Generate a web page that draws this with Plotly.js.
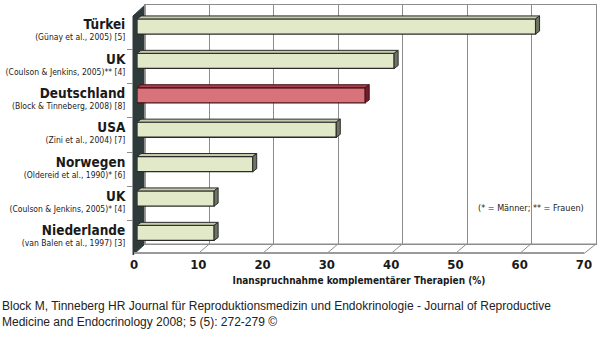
<!DOCTYPE html>
<html>
<head>
<meta charset="utf-8">
<script src="https://cdn.plot.ly/plotly-3.0.1.min.js"></script>
<style>html,body{margin:0;padding:0;background:#fff;}#chart{width:600px;height:357px;}</style>
</head>
<body>
<div id="chart"></div>
<script>
// ---- data ----
const countries = ["Türkei", "UK", "Deutschland", "USA", "Norwegen", "UK", "Niederlande"];
const sources = ["(Günay et al., 2005) [5]", "(Coulson & Jenkins, 2005)** [4]", "(Block & Tinneberg, 2008) [8]",
                 "(Zini et al., 2004) [7]", "(Oldereid et al., 1990)* [6]", "(Coulson & Jenkins, 2005)* [4]",
                 "(van Balen et al., 1997) [3]"];
const values = [62, 40, 35.5, 31, 18, 12, 12];
const highlight = [false, false, true, false, false, false, false];
const xTicks = [0, 10, 20, 30, 40, 50, 60, 70];
const xTitle = "Inanspruchnahme komplementärer Therapien (%)";
const noteText = "(* = Männer; ** = Frauen)";
const footer = "Block M, Tinneberg HR Journal für Reproduktionsmedizin und Endokrinologie - Journal of Reproductive<br>Medicine and Endocrinology 2008; 5 (5): 272-279 ©";

// ---- geometry helpers (pixels -> paper) ----
const W = 600, H = 357;
const px = x => x / W;
const py = y => 1 - y / H;
const COND = "Liberation Sans Narrow, DejaVu Sans Condensed, Arial Narrow, sans-serif";

const idx = countries.map((_, i) => i);
const labels = countries.map((c, i) => "<span style='font-size:13.5px'><b>" + c + "</b></span><br>" + sources[i]);

const fillLight = "#e2e9c9", fillRed = "#d9737b";
const lineLight = "#2b2b2b", lineRed = "#4a1119";

const barTrace = {
  type: "bar", orientation: "h",
  x: values, y: idx,
  xaxis: "x3", yaxis: "y3",
  width: 0.44,
  marker: {color: highlight.map(h => h ? fillRed : fillLight),
           line: {color: highlight.map(h => h ? lineRed : lineLight), width: 1.3}},
  hoverinfo: "skip", showlegend: false
};
// invisible helpers so the other subplots exist
const frontTrace = {type: "scatter", x: [0], y: [0], xaxis: "x", yaxis: "y", mode: "markers",
  marker: {opacity: 0}, hoverinfo: "skip", showlegend: false};
const backTrace = {type: "scatter", x: [0], y: [0], xaxis: "x2", yaxis: "y2", mode: "markers",
  marker: {opacity: 0}, hoverinfo: "skip", showlegend: false};

// bar axis scale (pixels per unit) for the 3D caps
const barX0 = 137, barX1 = 587, barPxPerUnit = (barX1 - barX0) / 70;
const barTop = 9.3, barBot = 250.1, barPxPerCat = (barBot - barTop) / 7;
const dx = 4 / barPxPerUnit, dy = 3 / barPxPerCat, hw = 0.22;

const shapes = [];
// left wall
shapes.push({type: "path", xref: "paper", yref: "paper", layer: "below",
  path: `M${px(133)},${py(16)} L${px(145)},${py(5)} L${px(145)},${py(244)} L${px(133)},${py(255)} Z`,
  fillcolor: "#2f3a3a", line: {color: "#2f3a3a", width: 1}});
// floor lines
shapes.push({type: "line", xref: "paper", yref: "paper", layer: "below",
  x0: px(145), y0: py(244), x1: px(596), y1: py(244), line: {color: "#8c8c8c", width: 1}});
shapes.push({type: "line", xref: "paper", yref: "paper", layer: "below",
  x0: px(584), y0: py(253.5), x1: px(596), y1: py(244), line: {color: "#8c8c8c", width: 1}});
// floor diagonals at each tick
const diagUnits = 11 / (450 / 70);
xTicks.slice(1, -1).forEach(v => {
  shapes.push({type: "line", xref: "x", yref: "paper", layer: "below",
    x0: v, y0: py(253.5), x1: v + diagUnits, y1: py(244), line: {color: "#8c8c8c", width: 1}});
});
// 3D caps for bars
values.forEach((v, i) => {
  const h = highlight[i];
  const top = i - hw, bot = i + hw;
  shapes.push({type: "path", xref: "x3", yref: "y3", layer: "above",
    path: `M0,${top} L${v},${top} L${v + dx},${top - dy} L${dx},${top - dy} Z`,
    fillcolor: h ? "#a8404c" : "#c4cba9", line: {color: h ? lineRed : lineLight, width: 1}});
  shapes.push({type: "path", xref: "x3", yref: "y3", layer: "above",
    path: `M${v},${top} L${v + dx},${top - dy} L${v + dx},${bot - dy} L${v},${bot} Z`,
    fillcolor: h ? "#6e1f2a" : "#6f7562", line: {color: h ? lineRed : lineLight, width: 1}});
});

const layout = {
  width: W, height: H, autosize: false,
  margin: {l: 0, r: 0, t: 0, b: 0, pad: 0},
  paper_bgcolor: "#ffffff", plot_bgcolor: "rgba(0,0,0,0)",
  showlegend: false,
  font: {family: COND, color: "#1a1a1a"},
  // front plane: x tick labels + category labels
  xaxis: {domain: [px(134), px(584)], range: [0, 70], anchor: "free", position: py(253),
    tickmode: "array", tickvals: xTicks, ticktext: xTicks.map(String),
    tickfont: {family: COND, size: 13, weight: "bold", color: "#1a1a1a"},
    ticks: "", ticklabelstandoff: -1,
    showgrid: false, zeroline: false,
    showline: true, linecolor: "#9a9a9a", linewidth: 2,
    title: {text: xTitle, font: {family: COND, size: 10, weight: "bold", color: "#1a1a1a"}, standoff: 5},
    automargin: false, fixedrange: true},
  yaxis: {domain: [py(255), py(14.85)], range: [6.5, -0.5], anchor: "x",
    tickmode: "array", tickvals: idx, ticktext: labels,
    tickfont: {family: COND, size: 8.5, color: "#1a1a1a"},
    ticks: "outside", ticklen: 6, tickcolor: "rgba(0,0,0,0)",
    minor: {tickmode: "array", tickvals: [0.5, 1.5, 2.5, 3.5, 4.5, 5.5], ticks: "outside", ticklen: 6, tickcolor: "#8c8c8c", showgrid: false},
    showgrid: false, zeroline: false, showline: false,
    automargin: false, fixedrange: true},
  // back plane: gridlines and box
  xaxis2: {domain: [px(145), px(596)], range: [0, 70], anchor: "y2",
    tickmode: "array", tickvals: xTicks, showticklabels: false, ticks: "",
    showgrid: true, gridcolor: "#8c8c8c", gridwidth: 1, zeroline: false,
    showline: true, mirror: true, linecolor: "#8c8c8c", linewidth: 1,
    automargin: false, fixedrange: true},
  yaxis2: {domain: [py(244), py(5)], range: [0, 1], anchor: "x2",
    showticklabels: false, ticks: "", showgrid: false, zeroline: false,
    showline: true, mirror: true, linecolor: "#8c8c8c", linewidth: 1,
    automargin: false, fixedrange: true},
  // bars
  xaxis3: {domain: [px(barX0), px(barX1)], range: [0, 70], anchor: "y3",
    visible: false, fixedrange: true},
  yaxis3: {domain: [py(barBot), py(barTop)], range: [6.5, -0.5], anchor: "x3",
    visible: false, fixedrange: true},
  shapes: shapes,
  annotations: [
    {text: noteText, xref: "paper", yref: "paper", x: px(531), y: py(208), xanchor: "center", yanchor: "middle",
     showarrow: false, font: {family: COND, size: 9, color: "#1a1a1a"}},
    {text: footer, xref: "paper", yref: "paper", x: px(0), y: py(297), xanchor: "left", yanchor: "top",
     align: "left", showarrow: false, font: {family: "Liberation Sans, Arial, sans-serif", size: 12, color: "#222"}}
  ]
};

Plotly.newPlot("chart", [backTrace, frontTrace, barTrace], layout, {staticPlot: true, displayModeBar: false});
</script>
</body>
</html>
